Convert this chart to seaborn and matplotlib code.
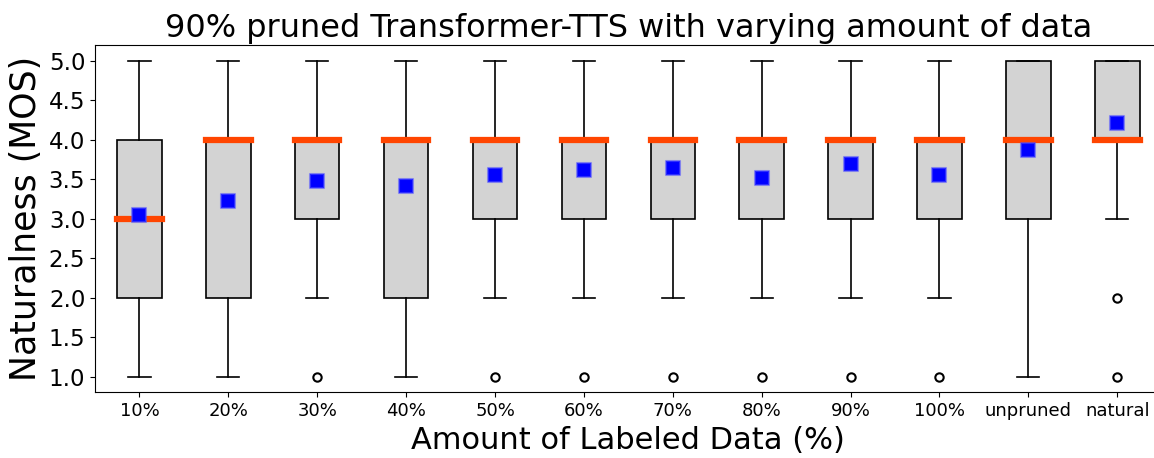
import matplotlib
matplotlib.use("Agg")
import matplotlib.pyplot as plt
import seaborn as sns
import numpy as np
import pandas as pd

categories = ["10%", "20%", "30%", "40%", "50%", "60%", "70%", "80%", "90%", "100%", "unpruned", "natural"]
q1 = [2, 2, 3, 2, 3, 3, 3, 3, 3, 3, 3, 4]
medians = [3, 4, 4, 4, 4, 4, 4, 4, 4, 4, 4, 4]
q3 = [4, 4, 4, 4, 4, 4, 4, 4, 4, 4, 5, 5]
whisker_low = [1, 1, 2, 1, 2, 2, 2, 2, 2, 2, 1, 3]
whisker_high = [5, 5, 5, 5, 5, 5, 5, 5, 5, 5, 5, 5]
fliers = [[], [], [1], [], [1], [1], [1], [1], [1], [1], [], [2, 1]]
means = [3.05, 3.23, 3.48, 3.42, 3.55, 3.62, 3.64, 3.52, 3.69, 3.55, 3.87, 4.21]
yticks = [1.0, 1.5, 2.0, 2.5, 3.0, 3.5, 4.0, 4.5, 5.0]

plt.rcParams["font.family"] = ["DejaVu Sans"]

fig, ax = plt.subplots(figsize=(11.54, 4.58), dpi=100)

stats = []
for i, c in enumerate(categories):
    stats.append(dict(label=c, q1=q1[i], med=medians[i], q3=q3[i],
                      whislo=whisker_low[i], whishi=whisker_high[i],
                      fliers=fliers[i], mean=means[i]))

positions = np.arange(len(categories))
ax.bxp(stats, positions=positions, widths=0.5, patch_artist=True, showmeans=False,
       boxprops=dict(facecolor="lightgray", edgecolor="black", linewidth=1.2),
       medianprops=dict(color="orangered", linewidth=4.5, solid_capstyle="projecting"),
       whiskerprops=dict(color="black", linewidth=1.2),
       capprops=dict(color="black", linewidth=1.2),
       flierprops=dict(marker="o", markerfacecolor="none", markeredgecolor="black",
                       markersize=6, markeredgewidth=1.5))

df = pd.DataFrame({"pos": positions, "mean": means})
sns.scatterplot(data=df, x="pos", y="mean", marker="s", s=110, color="blue",
                edgecolor=(0.3, 0.3, 1.0, 0.6), linewidth=1.5, zorder=5, ax=ax,
                legend=False)

ax.set_xticks(positions)
ax.set_xticklabels(categories, fontsize=13)
ax.set_yticks(yticks)
ax.set_yticklabels([f"{v:.1f}" for v in yticks], fontsize=16.5)
ax.set_xlim(-0.5, len(categories) - 0.5)
ax.set_ylim(0.8, 5.2)
ax.set_xlabel("Amount of Labeled Data (%)", fontsize=22)
ax.set_ylabel("Naturalness (MOS)", fontsize=25)
ax.set_title("90% pruned Transformer-TTS with varying amount of data", fontsize=23)

fig.subplots_adjust(left=0.0823, right=1.0067, top=0.9017, bottom=0.1434)
fig.savefig("out.png", dpi=100)
